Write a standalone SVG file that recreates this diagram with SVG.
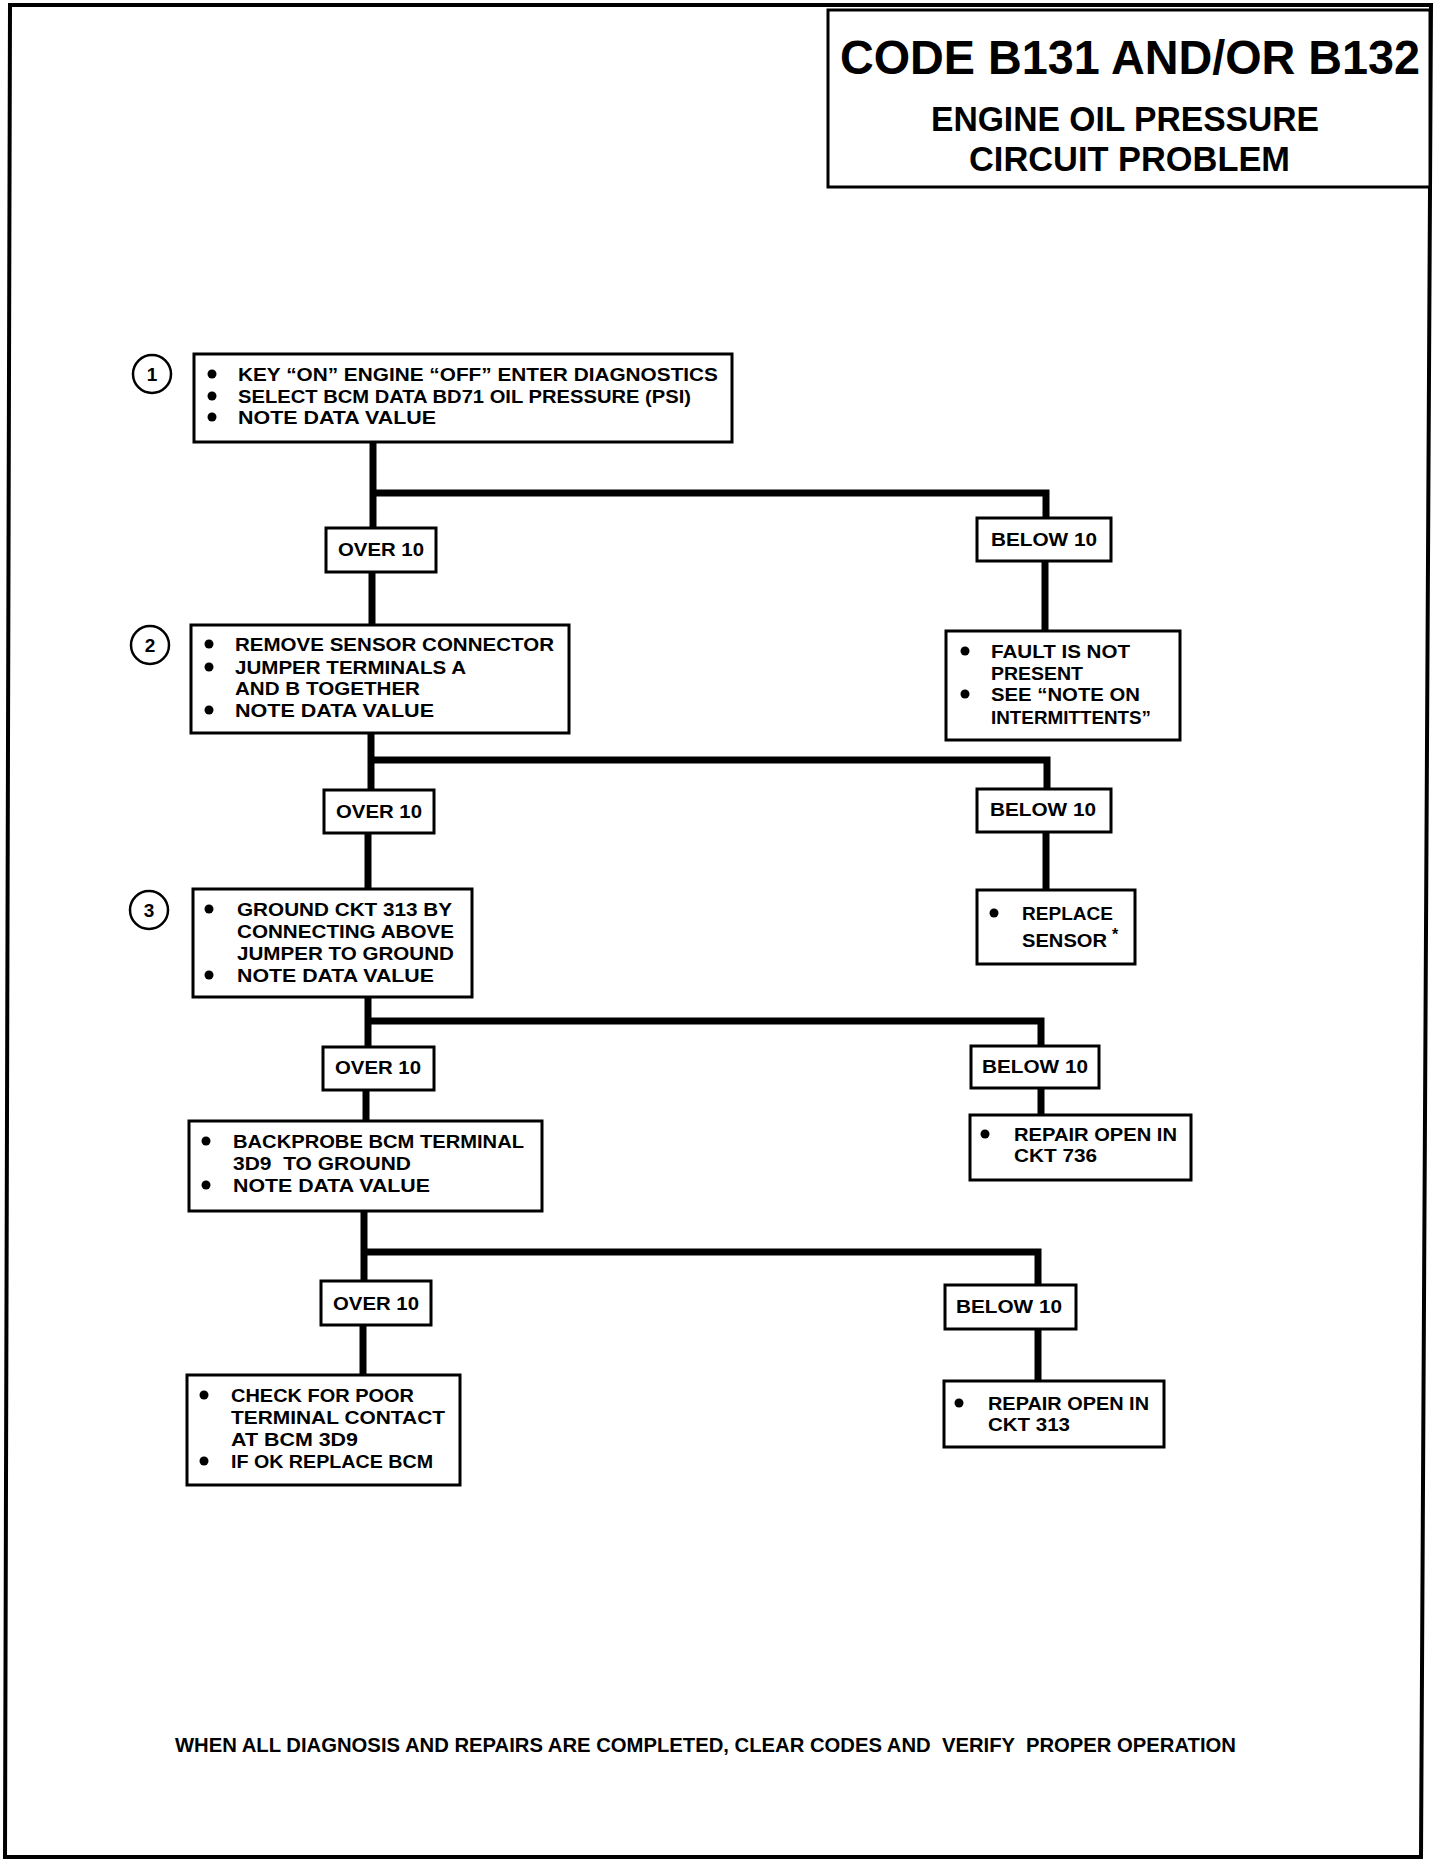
<svg xmlns="http://www.w3.org/2000/svg" width="1456" height="1864" viewBox="0 0 1456 1864">
<style>
.bg{fill:#fff}
.frame{fill:none;stroke:#000;stroke-width:4}
.box{fill:#fff;stroke:#000;stroke-width:3}
.wire{fill:none;stroke:#000;stroke-width:7;stroke-linejoin:miter;stroke-linecap:butt}
.t{font-family:"Liberation Sans",Arial,sans-serif;font-weight:700;font-size:18.5px;fill:#000}
.lab{font-family:"Liberation Sans",Arial,sans-serif;font-weight:700;font-size:19px;fill:#000;text-anchor:middle}
.num{font-family:"Liberation Sans",Arial,sans-serif;font-weight:700;font-size:19px;fill:#000;text-anchor:middle}
.ring{fill:#fff;stroke:#000;stroke-width:2.5}
.h1{font-family:"Liberation Sans",Arial,sans-serif;font-weight:700;font-size:48px;fill:#000}
.h2{font-family:"Liberation Sans",Arial,sans-serif;font-weight:700;font-size:35px;fill:#000}
.foot{font-family:"Liberation Sans",Arial,sans-serif;font-weight:700;font-size:20px;fill:#000}
</style>
<defs>
<circle id="dot" r="4.5" fill="#000"/>
</defs>
<rect class="bg" x="0" y="0" width="1456" height="1864"/>
<path class="frame" d="M10,5 H1431 L1421,1857 H5 Z"/>

<g id="title">
<rect class="box" x="828" y="10" width="602" height="177"/>
<text class="h1" x="840" y="74" textLength="580" lengthAdjust="spacingAndGlyphs">CODE B131 AND/OR B132</text>
<text class="h2" x="931" y="131" textLength="388" lengthAdjust="spacingAndGlyphs">ENGINE OIL PRESSURE</text>
<text class="h2" x="969" y="171" textLength="321" lengthAdjust="spacingAndGlyphs">CIRCUIT PROBLEM</text>
</g>

<g id="connectors">
<path class="wire" d="M373,442 V528"/>
<path class="wire" d="M373,493 H1046 V518"/>
<path class="wire" d="M372,572 V625"/>
<path class="wire" d="M1045,561 V631"/>
<path class="wire" d="M371,733 V790"/>
<path class="wire" d="M371,760 H1047 V789"/>
<path class="wire" d="M368,833 V889"/>
<path class="wire" d="M1046,832 V890"/>
<path class="wire" d="M368,997 V1047"/>
<path class="wire" d="M368,1021 H1041 V1046"/>
<path class="wire" d="M366,1090 V1121"/>
<path class="wire" d="M1041,1088 V1115"/>
<path class="wire" d="M364,1211 V1281"/>
<path class="wire" d="M364,1252 H1038 V1285"/>
<path class="wire" d="M363,1325 V1375"/>
<path class="wire" d="M1038,1329 V1381"/>
</g>

<g id="step1-marker">
<circle class="ring" cx="152" cy="374" r="19"/>
<text class="num" x="152" y="381">1</text>
</g>
<g id="step1">
<rect class="box" x="194" y="354" width="538" height="88"/>
<use href="#dot" x="212" y="374"/>
<use href="#dot" x="212" y="396"/>
<use href="#dot" x="212" y="417"/>
<text class="t" x="238" y="381" textLength="480" lengthAdjust="spacingAndGlyphs">KEY “ON” ENGINE “OFF” ENTER DIAGNOSTICS</text>
<text class="t" x="238" y="403" textLength="453" lengthAdjust="spacingAndGlyphs">SELECT BCM DATA BD71 OIL PRESSURE (PSI)</text>
<text class="t" x="238" y="424" textLength="198" lengthAdjust="spacingAndGlyphs">NOTE DATA VALUE</text>
</g>
<g id="over1">
<rect class="box" x="326" y="528" width="110" height="44"/>
<text class="lab" x="381" y="556" textLength="86" lengthAdjust="spacingAndGlyphs">OVER 10</text>
</g>
<g id="below1">
<rect class="box" x="977" y="518" width="134" height="43"/>
<text class="lab" x="1044" y="546" textLength="106" lengthAdjust="spacingAndGlyphs">BELOW 10</text>
</g>

<g id="step2-marker">
<circle class="ring" cx="150" cy="645" r="19"/>
<text class="num" x="150" y="652">2</text>
</g>
<g id="step2">
<rect class="box" x="191" y="625" width="378" height="108"/>
<use href="#dot" x="209" y="644"/>
<use href="#dot" x="209" y="667"/>
<use href="#dot" x="209" y="710"/>
<text class="t" x="235" y="651" textLength="319" lengthAdjust="spacingAndGlyphs">REMOVE SENSOR CONNECTOR</text>
<text class="t" x="235" y="674" textLength="231" lengthAdjust="spacingAndGlyphs">JUMPER TERMINALS A</text>
<text class="t" x="235" y="695" textLength="185" lengthAdjust="spacingAndGlyphs">AND B TOGETHER</text>
<text class="t" x="235" y="717" textLength="199" lengthAdjust="spacingAndGlyphs">NOTE DATA VALUE</text>
</g>
<g id="fault">
<rect class="box" x="946" y="631" width="234" height="109"/>
<use href="#dot" x="965" y="651"/>
<use href="#dot" x="965" y="694"/>
<text class="t" x="991" y="658" textLength="139" lengthAdjust="spacingAndGlyphs">FAULT IS NOT</text>
<text class="t" x="991" y="680" textLength="92" lengthAdjust="spacingAndGlyphs">PRESENT</text>
<text class="t" x="991" y="701" textLength="149" lengthAdjust="spacingAndGlyphs">SEE “NOTE ON</text>
<text class="t" x="991" y="724" textLength="160" lengthAdjust="spacingAndGlyphs">INTERMITTENTS”</text>
</g>
<g id="over2">
<rect class="box" x="324" y="790" width="110" height="43"/>
<text class="lab" x="379" y="818" textLength="86" lengthAdjust="spacingAndGlyphs">OVER 10</text>
</g>
<g id="below2">
<rect class="box" x="977" y="789" width="134" height="43"/>
<text class="lab" x="1043" y="816" textLength="106" lengthAdjust="spacingAndGlyphs">BELOW 10</text>
</g>

<g id="step3-marker">
<circle class="ring" cx="149" cy="910" r="19"/>
<text class="num" x="149" y="917">3</text>
</g>
<g id="step3">
<rect class="box" x="193" y="889" width="279" height="108"/>
<use href="#dot" x="209" y="909"/>
<use href="#dot" x="209" y="975"/>
<text class="t" x="237" y="916" textLength="215" lengthAdjust="spacingAndGlyphs">GROUND CKT 313 BY</text>
<text class="t" x="237" y="938" textLength="217" lengthAdjust="spacingAndGlyphs">CONNECTING ABOVE</text>
<text class="t" x="237" y="960" textLength="217" lengthAdjust="spacingAndGlyphs">JUMPER TO GROUND</text>
<text class="t" x="237" y="982" textLength="197" lengthAdjust="spacingAndGlyphs">NOTE DATA VALUE</text>
</g>
<g id="replace-sensor">
<rect class="box" x="977" y="890" width="158" height="74"/>
<use href="#dot" x="994" y="913"/>
<text class="t" x="1022" y="920" textLength="91" lengthAdjust="spacingAndGlyphs">REPLACE</text>
<text class="t" x="1022" y="947" textLength="85" lengthAdjust="spacingAndGlyphs">SENSOR</text>
<text class="t" x="1112" y="940" style="font-size:16px">*</text>
</g>
<g id="over3">
<rect class="box" x="323" y="1047" width="111" height="43"/>
<text class="lab" x="378" y="1074" textLength="86" lengthAdjust="spacingAndGlyphs">OVER 10</text>
</g>
<g id="below3">
<rect class="box" x="971" y="1046" width="128" height="42"/>
<text class="lab" x="1035" y="1073" textLength="106" lengthAdjust="spacingAndGlyphs">BELOW 10</text>
</g>

<g id="backprobe">
<rect class="box" x="189" y="1121" width="353" height="90"/>
<use href="#dot" x="206" y="1141"/>
<use href="#dot" x="206" y="1185"/>
<text class="t" x="233" y="1148" textLength="291" lengthAdjust="spacingAndGlyphs">BACKPROBE BCM TERMINAL</text>
<text class="t" x="233" y="1170" textLength="178" lengthAdjust="spacingAndGlyphs" xml:space="preserve">3D9  TO GROUND</text>
<text class="t" x="233" y="1192" textLength="197" lengthAdjust="spacingAndGlyphs">NOTE DATA VALUE</text>
</g>
<g id="repair736">
<rect class="box" x="970" y="1115" width="221" height="65"/>
<use href="#dot" x="985" y="1134"/>
<text class="t" x="1014" y="1141" textLength="163" lengthAdjust="spacingAndGlyphs">REPAIR OPEN IN</text>
<text class="t" x="1014" y="1162" textLength="83" lengthAdjust="spacingAndGlyphs">CKT 736</text>
</g>
<g id="over4">
<rect class="box" x="321" y="1281" width="110" height="44"/>
<text class="lab" x="376" y="1310" textLength="86" lengthAdjust="spacingAndGlyphs">OVER 10</text>
</g>
<g id="below4">
<rect class="box" x="945" y="1285" width="131" height="44"/>
<text class="lab" x="1009" y="1313" textLength="106" lengthAdjust="spacingAndGlyphs">BELOW 10</text>
</g>

<g id="check-contact">
<rect class="box" x="187" y="1375" width="273" height="110"/>
<use href="#dot" x="204" y="1395"/>
<use href="#dot" x="204" y="1461"/>
<text class="t" x="231" y="1402" textLength="183" lengthAdjust="spacingAndGlyphs">CHECK FOR POOR</text>
<text class="t" x="231" y="1424" textLength="214" lengthAdjust="spacingAndGlyphs">TERMINAL CONTACT</text>
<text class="t" x="231" y="1446" textLength="127" lengthAdjust="spacingAndGlyphs">AT BCM 3D9</text>
<text class="t" x="231" y="1468" textLength="202" lengthAdjust="spacingAndGlyphs">IF OK REPLACE BCM</text>
</g>
<g id="repair313">
<rect class="box" x="944" y="1381" width="220" height="66"/>
<use href="#dot" x="959" y="1403"/>
<text class="t" x="988" y="1410" textLength="161" lengthAdjust="spacingAndGlyphs">REPAIR OPEN IN</text>
<text class="t" x="988" y="1431" textLength="82" lengthAdjust="spacingAndGlyphs">CKT 313</text>
</g>

<g id="footer">
<text class="foot" x="175" y="1752" textLength="1061" lengthAdjust="spacingAndGlyphs" xml:space="preserve">WHEN ALL DIAGNOSIS AND REPAIRS ARE COMPLETED, CLEAR CODES AND  VERIFY  PROPER OPERATION</text>
</g>
</svg>
